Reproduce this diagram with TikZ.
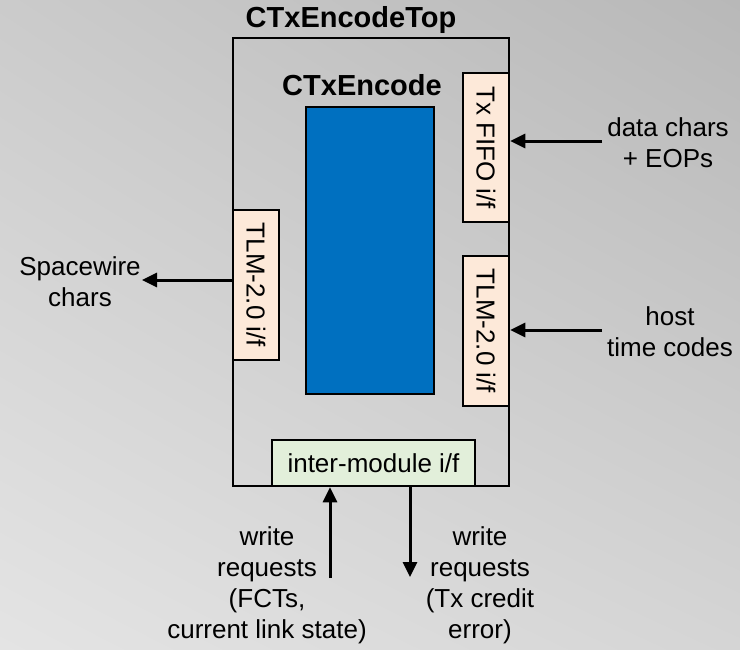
\documentclass[tikz,border=0pt]{standalone}
\usepackage{fontspec}
\setmainfont{Liberation Sans}
\usetikzlibrary{arrows.meta,shadings}
\definecolor{bgtl}{HTML}{CBCBCB}
\definecolor{bgtr}{HTML}{B8B8B8}
\definecolor{bgbl}{HTML}{E4E4E4}
\definecolor{bgbr}{HTML}{D5D5D5}
\definecolor{coreblue}{HTML}{0070C0}
\definecolor{ifpeach}{HTML}{FDE9D9}
\definecolor{ifgreen}{HTML}{E2EFDA}
\tikzset{
  lbl/.style={font=\fontsize{26}{31}\selectfont, align=center, inner sep=0pt},
  ttl/.style={font=\bfseries\fontsize{29}{34}\selectfont, inner sep=0pt, anchor=base},
  portbox/.style={draw=black, line width=2.5pt, fill=ifpeach, inner sep=0pt,
    minimum width=46pt, minimum height=150pt},
  porttext/.style={font=\fontsize{26}{31}\selectfont, rotate=-90},
  sig/.style={line width=3pt, -{Triangle[length=15pt,width=14pt]}},
}
\begin{document}
\begin{tikzpicture}[x=1pt,y=-1pt]
  \useasboundingbox (0,0) rectangle (740,649);
  % soft grey backdrop
  \shade[upper left=bgtl, upper right=bgtr, lower left=bgbl, lower right=bgbr]
    (0,0) rectangle (740,649);

  % top-level wrapper module
  \node[draw=black, line width=2.5pt, minimum width=276pt, minimum height=448pt,
        inner sep=0pt] (top) at (371,262) {};
  \node[ttl] (toptitle) at (351,27) {CTxEncodeTop};

  % encoder core
  \node[ttl] (coretitle) at (362,95) {CTxEncode};
  \node[draw=black, line width=2.5pt, fill=coreblue, minimum width=128pt,
        minimum height=287pt, inner sep=0pt] (core) at (370,250.5) {};

  % interface ports
  \node[portbox, minimum height=149pt] (fifo) at (486,147.5) {};
  \node[porttext] at (fifo.center) {Tx FIFO i/f};
  \node[portbox] (tlmr) at (486,331) {};
  \node[porttext] at (tlmr.center) {TLM-2.0 i/f};
  \node[portbox] (tlml) at (256,285) {};
  \node[porttext] at (tlml.center) {TLM-2.0 i/f};
  \node[draw=black, line width=2.5pt, fill=ifgreen, minimum width=203pt,
        minimum height=46pt, inner sep=0pt,
        font=\fontsize{26}{31}\selectfont] (inter) at (373.5,463) {inter-module i/f};

  % external signal ends
  \coordinate (datasrc) at (602,141);
  \coordinate (hostsrc) at (602,330);
  \coordinate (swtip) at (142,280);
  \coordinate (reqsrc) at (330,578);
  \coordinate (errtip) at (410,577);

  \draw[sig] (datasrc) -- (datasrc -| fifo.east);
  \draw[sig] (hostsrc) -- (hostsrc -| tlmr.east);
  \draw[sig] (swtip -| tlml.west) -- (swtip);
  \draw[sig] (reqsrc) -- (reqsrc |- inter.south);
  \draw[sig] (errtip |- inter.south) -- (errtip);

  % signal labels
  \node[lbl] (datalbl) at (668,143) {data chars\\+ EOPs};
  \node[lbl] (hostlbl) at (670,332) {host\\time codes};
  \node[lbl] (swlbl) at (80,282) {Spacewire\\chars};
  \node[lbl] (reqlbl) at (267,585) {write\\requests\\(FCTs,\\current link state)};
  \node[lbl] (errlbl) at (480,585) {write\\requests\\(Tx credit\\error)};
\end{tikzpicture}
\end{document}
